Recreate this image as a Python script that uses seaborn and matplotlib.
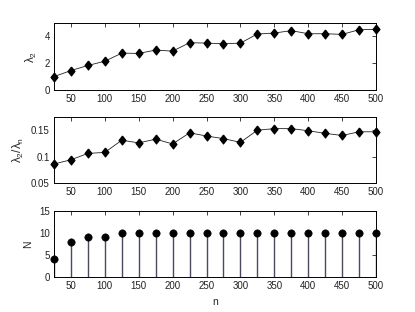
"""
Trois sous-graphes : lambda_2, ratio lambda_2/lambda_n et N en fonction de n.
"""
import numpy as np
import pandas as pd
import matplotlib
matplotlib.use("Agg")
import matplotlib.pyplot as plt
import seaborn as sns

n_vals = [25, 50, 75, 100, 125, 150, 175, 200, 225, 250,
          275, 300, 325, 350, 375, 400, 425, 450, 475, 500]
lambda2 = [1.0, 1.45, 1.83, 2.15, 2.75, 2.73, 2.98, 2.9, 3.53, 3.5,
           3.45, 3.5, 4.18, 4.25, 4.43, 4.2, 4.2, 4.15, 4.5, 4.53]
ratio = [0.086, 0.094, 0.106, 0.108, 0.131, 0.126, 0.133, 0.124, 0.145, 0.139,
         0.134, 0.127, 0.150, 0.153, 0.153, 0.149, 0.144, 0.140, 0.147, 0.147]
N_vals = [4, 8, 9, 9, 10, 10, 10, 10, 10, 10,
          10, 10, 10, 10, 10, 10, 10, 10, 10, 10]

df = pd.DataFrame({"n": n_vals, "lambda2": lambda2, "ratio": ratio, "N": N_vals})

sns.set_style("white")
plt.rcParams["font.family"] = ["Liberation Sans", "DejaVu Sans"]
plt.rcParams["mathtext.fontset"] = "custom"
plt.rcParams["mathtext.rm"] = "Liberation Sans"
plt.rcParams["mathtext.it"] = "Liberation Sans"

# losange un peu étiré (style matlab)
diamond = [(0, 1), (0.78, 0), (0, -1), (-0.78, 0), (0, 1)]

fig = plt.figure(figsize=(4.15, 3.12), dpi=100)
ax1 = fig.add_axes([54 / 415, 1 - 90 / 312, 322 / 415, 67 / 312])
ax2 = fig.add_axes([54 / 415, 1 - 183 / 312, 322 / 415, 66 / 312])
ax3 = fig.add_axes([54 / 415, 1 - 277 / 312, 322 / 415, 66 / 312])

for ax, col in ((ax1, "lambda2"), (ax2, "ratio")):
    sns.lineplot(data=df, x="n", y=col, ax=ax, color="#222222", lw=0.6,
                 marker=diamond, markersize=6.5, markeredgewidth=0.8,
                 markeredgecolor="black", markerfacecolor="black",
                 clip_on=False, zorder=3)

# diagramme en tiges
ax3.vlines(df["n"], 0, df["N"], color="#4a4a5e", lw=1.0)
sns.scatterplot(data=df, x="n", y="N", ax=ax3, color="black", s=28,
                edgecolor="black", zorder=3, clip_on=False)

ax1.set_ylim(0, 5)
ax1.set_yticks([0, 2, 4])
ax2.set_ylim(0.05, 0.175)
ax2.set_yticks([0.05, 0.1, 0.15])
ax2.set_yticklabels(["0.05", "0.1", "0.15"])
ax3.set_ylim(0, 15)
ax3.set_yticks([0, 5, 10, 15])

for ax in (ax1, ax2, ax3):
    ax.set_xlim(25, 500)
    ax.set_xticks(range(50, 501, 50))
    ax.tick_params(direction="in", length=3, width=0.6, labelsize=7,
                   top=True, right=True, pad=3, colors="#222222")
    for sp in ax.spines.values():
        sp.set_linewidth(0.7)
        sp.set_color("black")
    ax.set_xlabel("")

ax1.set_ylabel(r"$\lambda_2$", fontsize=8.5)
ax2.set_ylabel(r"$\lambda_2/\lambda_n$", fontsize=8.5)
ax3.set_ylabel("N", fontsize=7.5)
ax3.set_xlabel("n", fontsize=7.5)

fig.savefig("out.png", dpi=100)
